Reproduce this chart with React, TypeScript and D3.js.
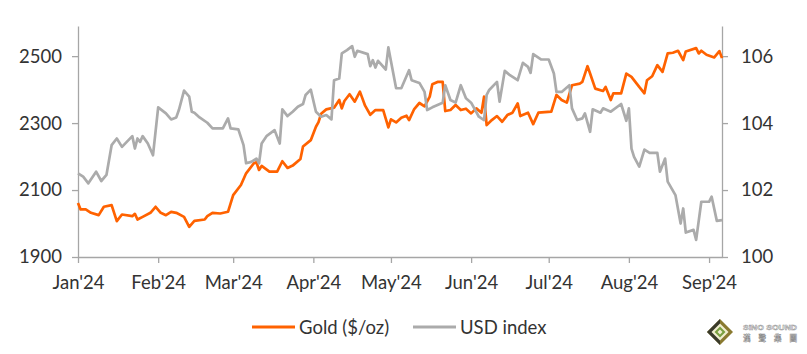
import React, { useEffect, useRef } from "react";
import * as d3 from "d3";

// Gold ($/oz), left axis
const gold: [string, number][] = [
  ["01-01", 2061], ["01-02", 2042], ["01-04", 2042], ["01-06", 2032], ["01-09", 2025],
  ["01-11", 2050], ["01-14", 2055], ["01-16", 2007], ["01-18", 2027], ["01-22", 2022],
  ["01-23", 2029], ["01-24", 2012], ["01-26", 2020], ["01-29", 2032], ["01-31", 2050],
  ["02-02", 2032], ["02-04", 2025], ["02-06", 2035], ["02-08", 2032], ["02-11", 2020],
  ["02-13", 1990], ["02-15", 2008], ["02-19", 2012], ["02-20", 2022], ["02-22", 2032],
  ["02-25", 2030], ["02-28", 2035], ["03-01", 2085], ["03-04", 2115], ["03-06", 2150],
  ["03-09", 2180], ["03-10", 2183], ["03-11", 2160], ["03-12", 2172], ["03-15", 2155],
  ["03-18", 2155], ["03-20", 2186], ["03-22", 2166], ["03-24", 2173], ["03-27", 2193],
  ["03-28", 2230], ["03-31", 2249], ["04-02", 2289], ["04-03", 2303], ["04-04", 2328],
  ["04-06", 2341], ["04-09", 2346], ["04-11", 2369], ["04-12", 2344], ["04-13", 2366],
  ["04-15", 2386], ["04-17", 2364], ["04-19", 2394], ["04-21", 2352], ["04-23", 2325],
  ["04-25", 2339], ["04-28", 2339], ["04-30", 2287], ["05-01", 2311], ["05-03", 2302],
  ["05-05", 2316], ["05-07", 2322], ["05-08", 2309], ["05-10", 2342], ["05-12", 2360],
  ["05-14", 2350], ["05-16", 2379], ["05-17", 2416], ["05-19", 2423], ["05-21", 2423],
  ["05-22", 2336], ["05-24", 2339], ["05-26", 2354], ["05-28", 2339], ["05-30", 2343],
  ["06-01", 2329], ["06-03", 2344], ["06-05", 2331], ["06-06", 2379], ["06-07", 2294],
  ["06-09", 2309], ["06-11", 2321], ["06-13", 2304], ["06-15", 2324], ["06-17", 2331],
  ["06-19", 2359], ["06-20", 2321], ["06-23", 2331], ["06-25", 2297], ["06-27", 2331],
  ["07-02", 2334], ["07-04", 2384], ["07-06", 2369], ["07-08", 2361], ["07-10", 2413],
  ["07-13", 2418], ["07-14", 2423], ["07-16", 2470], ["07-17", 2448], ["07-19", 2403],
  ["07-22", 2396], ["07-23", 2408], ["07-25", 2369], ["07-26", 2389], ["07-29", 2389],
  ["07-31", 2448], ["08-02", 2438], ["08-05", 2408], ["08-07", 2389], ["08-08", 2428],
  ["08-10", 2440], ["08-12", 2473], ["08-14", 2453], ["08-16", 2508], ["08-18", 2510],
  ["08-20", 2516], ["08-22", 2488], ["08-23", 2514], ["08-27", 2524], ["08-28", 2508],
  ["08-29", 2516], ["08-31", 2504], ["09-03", 2496], ["09-05", 2515], ["09-06", 2494],
];

// USD index, right axis
const usd: [string, number][] = [
  ["01-01", 102.5], ["01-03", 102.4], ["01-05", 102.2], ["01-08", 102.55], ["01-10", 102.27],
  ["01-12", 102.45], ["01-14", 103.34], ["01-16", 103.54], ["01-18", 103.29], ["01-22", 103.61],
  ["01-23", 103.24], ["01-24", 103.54], ["01-25", 103.44], ["01-26", 103.61], ["01-28", 103.39],
  ["01-30", 103.04], ["02-01", 104.47], ["02-04", 104.29], ["02-06", 104.11], ["02-08", 104.17],
  ["02-09", 104.39], ["02-11", 104.97], ["02-13", 104.79], ["02-14", 104.34], ["02-15", 104.31],
  ["02-17", 104.17], ["02-20", 104.01], ["02-22", 103.84], ["02-26", 103.84], ["02-28", 104.14],
  ["02-29", 103.84], ["03-03", 103.81], ["03-05", 103.34], ["03-06", 102.8], ["03-08", 102.84],
  ["03-10", 102.94], ["03-11", 102.8], ["03-12", 103.39], ["03-14", 103.62], ["03-17", 103.79],
  ["03-19", 103.39], ["03-20", 104.41], ["03-22", 104.21], ["03-24", 104.34], ["03-26", 104.49],
  ["03-28", 104.57], ["03-29", 104.84], ["03-31", 105.0], ["04-02", 104.34], ["04-04", 104.19],
  ["04-06", 104.24], ["04-08", 104.11], ["04-09", 105.28], ["04-11", 105.33], ["04-12", 106.08],
  ["04-14", 106.18], ["04-16", 106.3], ["04-17", 105.98], ["04-18", 106.16], ["04-22", 106.06],
  ["04-23", 105.7], ["04-24", 105.88], ["04-25", 105.66], ["04-26", 105.86], ["04-29", 105.6],
  ["04-30", 106.26], ["05-03", 105.04], ["05-05", 105.04], ["05-08", 105.58], ["05-09", 105.28],
  ["05-12", 105.2], ["05-14", 104.93], ["05-15", 104.39], ["05-17", 104.47], ["05-21", 104.61],
  ["05-22", 105.13], ["05-24", 104.69], ["05-26", 104.61], ["05-28", 105.13], ["05-30", 104.74],
  ["06-01", 104.61], ["06-04", 104.19], ["06-06", 104.09], ["06-07", 104.84], ["06-08", 104.99],
  ["06-11", 105.23], ["06-12", 104.64], ["06-14", 105.56], ["06-16", 105.43], ["06-19", 105.28],
  ["06-21", 105.8], ["06-23", 105.68], ["06-24", 105.5], ["06-25", 106.06], ["06-28", 105.9],
  ["07-01", 105.9], ["07-03", 105.48], ["07-04", 104.93], ["07-06", 104.93], ["07-09", 105.13],
  ["07-10", 104.44], ["07-12", 104.09], ["07-14", 104.14], ["07-15", 104.29], ["07-17", 103.74],
  ["07-18", 104.41], ["07-21", 104.31], ["07-22", 104.44], ["07-25", 104.34], ["07-29", 104.57],
  ["07-31", 104.07], ["08-01", 104.44], ["08-02", 103.24], ["08-03", 102.99], ["08-05", 102.7],
  ["08-07", 103.21], ["08-09", 103.11], ["08-12", 103.11], ["08-13", 102.55], ["08-15", 102.94],
  ["08-16", 102.25], ["08-19", 101.85], ["08-21", 101.0], ["08-22", 101.45], ["08-23", 100.73],
  ["08-26", 100.81], ["08-27", 100.51], ["08-29", 101.65], ["09-01", 101.65], ["09-02", 101.8],
  ["09-04", 101.08], ["09-06", 101.1],
];

const monthTicks = ["01-01", "02-01", "03-01", "04-01", "05-01", "06-01", "07-01", "08-01", "09-01"];
const goldTicks = [1900, 2100, 2300, 2500];
const usdTicks = [100, 102, 104, 106];

const parse = (s: string) => d3.timeParse("%Y-%m-%d")("2024-" + s) as Date;

const ORANGE = "#FF6200";
const GREY = "#ABABAB";
const AXIS = "#A6A6A6";
const TEXT = "#333333";
const FONT = "Lato, 'Open Sans', sans-serif";

const GoldUsdChart = () => {
  const ref = useRef<SVGSVGElement>(null);

  useEffect(() => {
    if (!ref.current) return;
    const svg = d3.select(ref.current);
    svg.selectAll("*").remove();

    const left = 78, right = 722, top = 26, bottom = 257;

    const x = d3.scaleTime()
      .domain([parse("01-01"), parse("09-06")])
      .range([left, right]);
    const yGold = d3.scaleLinear().domain([1900, 2590]).range([bottom, top]);
    const yUsd = d3.scaleLinear().domain([100, 106.9]).range([bottom, top]);

    const styleAxis = (g: any) => {
      g.selectAll(".domain").attr("stroke", AXIS).attr("stroke-width", 1.3);
      g.selectAll(".tick line").attr("stroke", AXIS).attr("stroke-width", 1.3);
      g.selectAll("text")
        .attr("fill", TEXT)
        .style("font-family", FONT)
        .style("font-size", "18.5px");
    };

    svg.append("g")
      .attr("transform", `translate(0,${bottom})`)
      .call(
        d3.axisBottom(x)
          .tickValues(monthTicks.map(parse))
          .tickSize(6)
          .tickSizeOuter(0)
          .tickPadding(13)
          .tickFormat((d: any) => d3.timeFormat("%b'%y")(d))
      )
      .call(styleAxis);

    svg.append("g")
      .attr("transform", `translate(${left},0)`)
      .call(
        d3.axisLeft(yGold)
          .tickValues(goldTicks)
          .tickSize(6)
          .tickSizeOuter(0)
          .tickPadding(10)
          .tickFormat(d3.format("d"))
      )
      .call(styleAxis);

    svg.append("g")
      .attr("transform", `translate(${right},0)`)
      .call(
        d3.axisRight(yUsd)
          .tickValues(usdTicks)
          .tickSize(6)
          .tickSizeOuter(0)
          .tickPadding(13)
          .tickFormat(d3.format("d"))
      )
      .call(styleAxis);

    const goldLine = d3.line<[string, number]>()
      .x(d => x(parse(d[0])))
      .y(d => yGold(d[1]));
    const usdLine = d3.line<[string, number]>()
      .x(d => x(parse(d[0])))
      .y(d => yUsd(d[1]));

    svg.append("path")
      .datum(gold)
      .attr("fill", "none")
      .attr("stroke", ORANGE)
      .attr("stroke-width", 2.7)
      .attr("stroke-linejoin", "round")
      .attr("d", goldLine);

    svg.append("path")
      .datum(usd)
      .attr("fill", "none")
      .attr("stroke", GREY)
      .attr("stroke-width", 2.7)
      .attr("stroke-linejoin", "round")
      .attr("d", usdLine);

    // ===== Legend =====
    const legend = [
      { name: "Gold ($/oz)", color: ORANGE, x: 252 },
      { name: "USD index", color: GREY, x: 413 },
    ];
    legend.forEach(l => {
      svg.append("line")
        .attr("x1", l.x).attr("x2", l.x + 43)
        .attr("y1", 327).attr("y2", 327)
        .attr("stroke", l.color)
        .attr("stroke-width", 3);
      svg.append("text")
        .attr("x", l.x + 47)
        .attr("y", 327)
        .attr("dy", "0.36em")
        .attr("fill", TEXT)
        .style("font-family", FONT)
        .style("font-size", "18.5px")
        .text(l.name);
    });

    // ===== Watermark =====
    const wm = svg.append("g").attr("transform", "translate(720,332)");
    const diamond = (r: number) => `M0,${-r}L${r},0L0,${r}L${-r},0Z`;
    wm.append("path").attr("d", diamond(13)).attr("fill", "#8a7a30");
    wm.append("path").attr("d", "M0,-13L-13,0L0,13Z").attr("fill", "#3a3a2a");
    wm.append("path").attr("d", diamond(8.5)).attr("fill", "#f2eed0");
    wm.append("path").attr("d", diamond(5.5)).attr("fill", "#7aa040");
    wm.append("path").attr("d", diamond(2.5)).attr("fill", "#f2eed0");
    wm.append("text")
      .attr("x", 23).attr("y", -2)
      .attr("fill", "#ffffff")
      .attr("stroke", "#8f8f8f")
      .attr("stroke-width", 0.5)
      .attr("textLength", 54)
      .attr("lengthAdjust", "spacingAndGlyphs")
      .style("font-family", "'Liberation Sans', sans-serif")
      .style("font-weight", "bold")
      .style("font-size", "8px")
      .text("SiNO SOUND");
    wm.append("text")
      .attr("x", 23).attr("y", 9)
      .attr("fill", "#ffffff")
      .attr("stroke", "#8f8f8f")
      .attr("stroke-width", 0.5)
      .attr("textLength", 54)
      .attr("lengthAdjust", "spacing")
      .style("font-family", "'Noto Sans CJK TC', sans-serif")
      .style("font-weight", "bold")
      .style("font-size", "7.5px")
      .text("漢聲集團");
  }, []);

  return (
    <svg
      ref={ref}
      width={807}
      height={354}
      style={{ position: "absolute", left: 0, top: 0, background: "#ffffff" }}
    />
  );
};

export default function App() {
  return <GoldUsdChart />;
}
